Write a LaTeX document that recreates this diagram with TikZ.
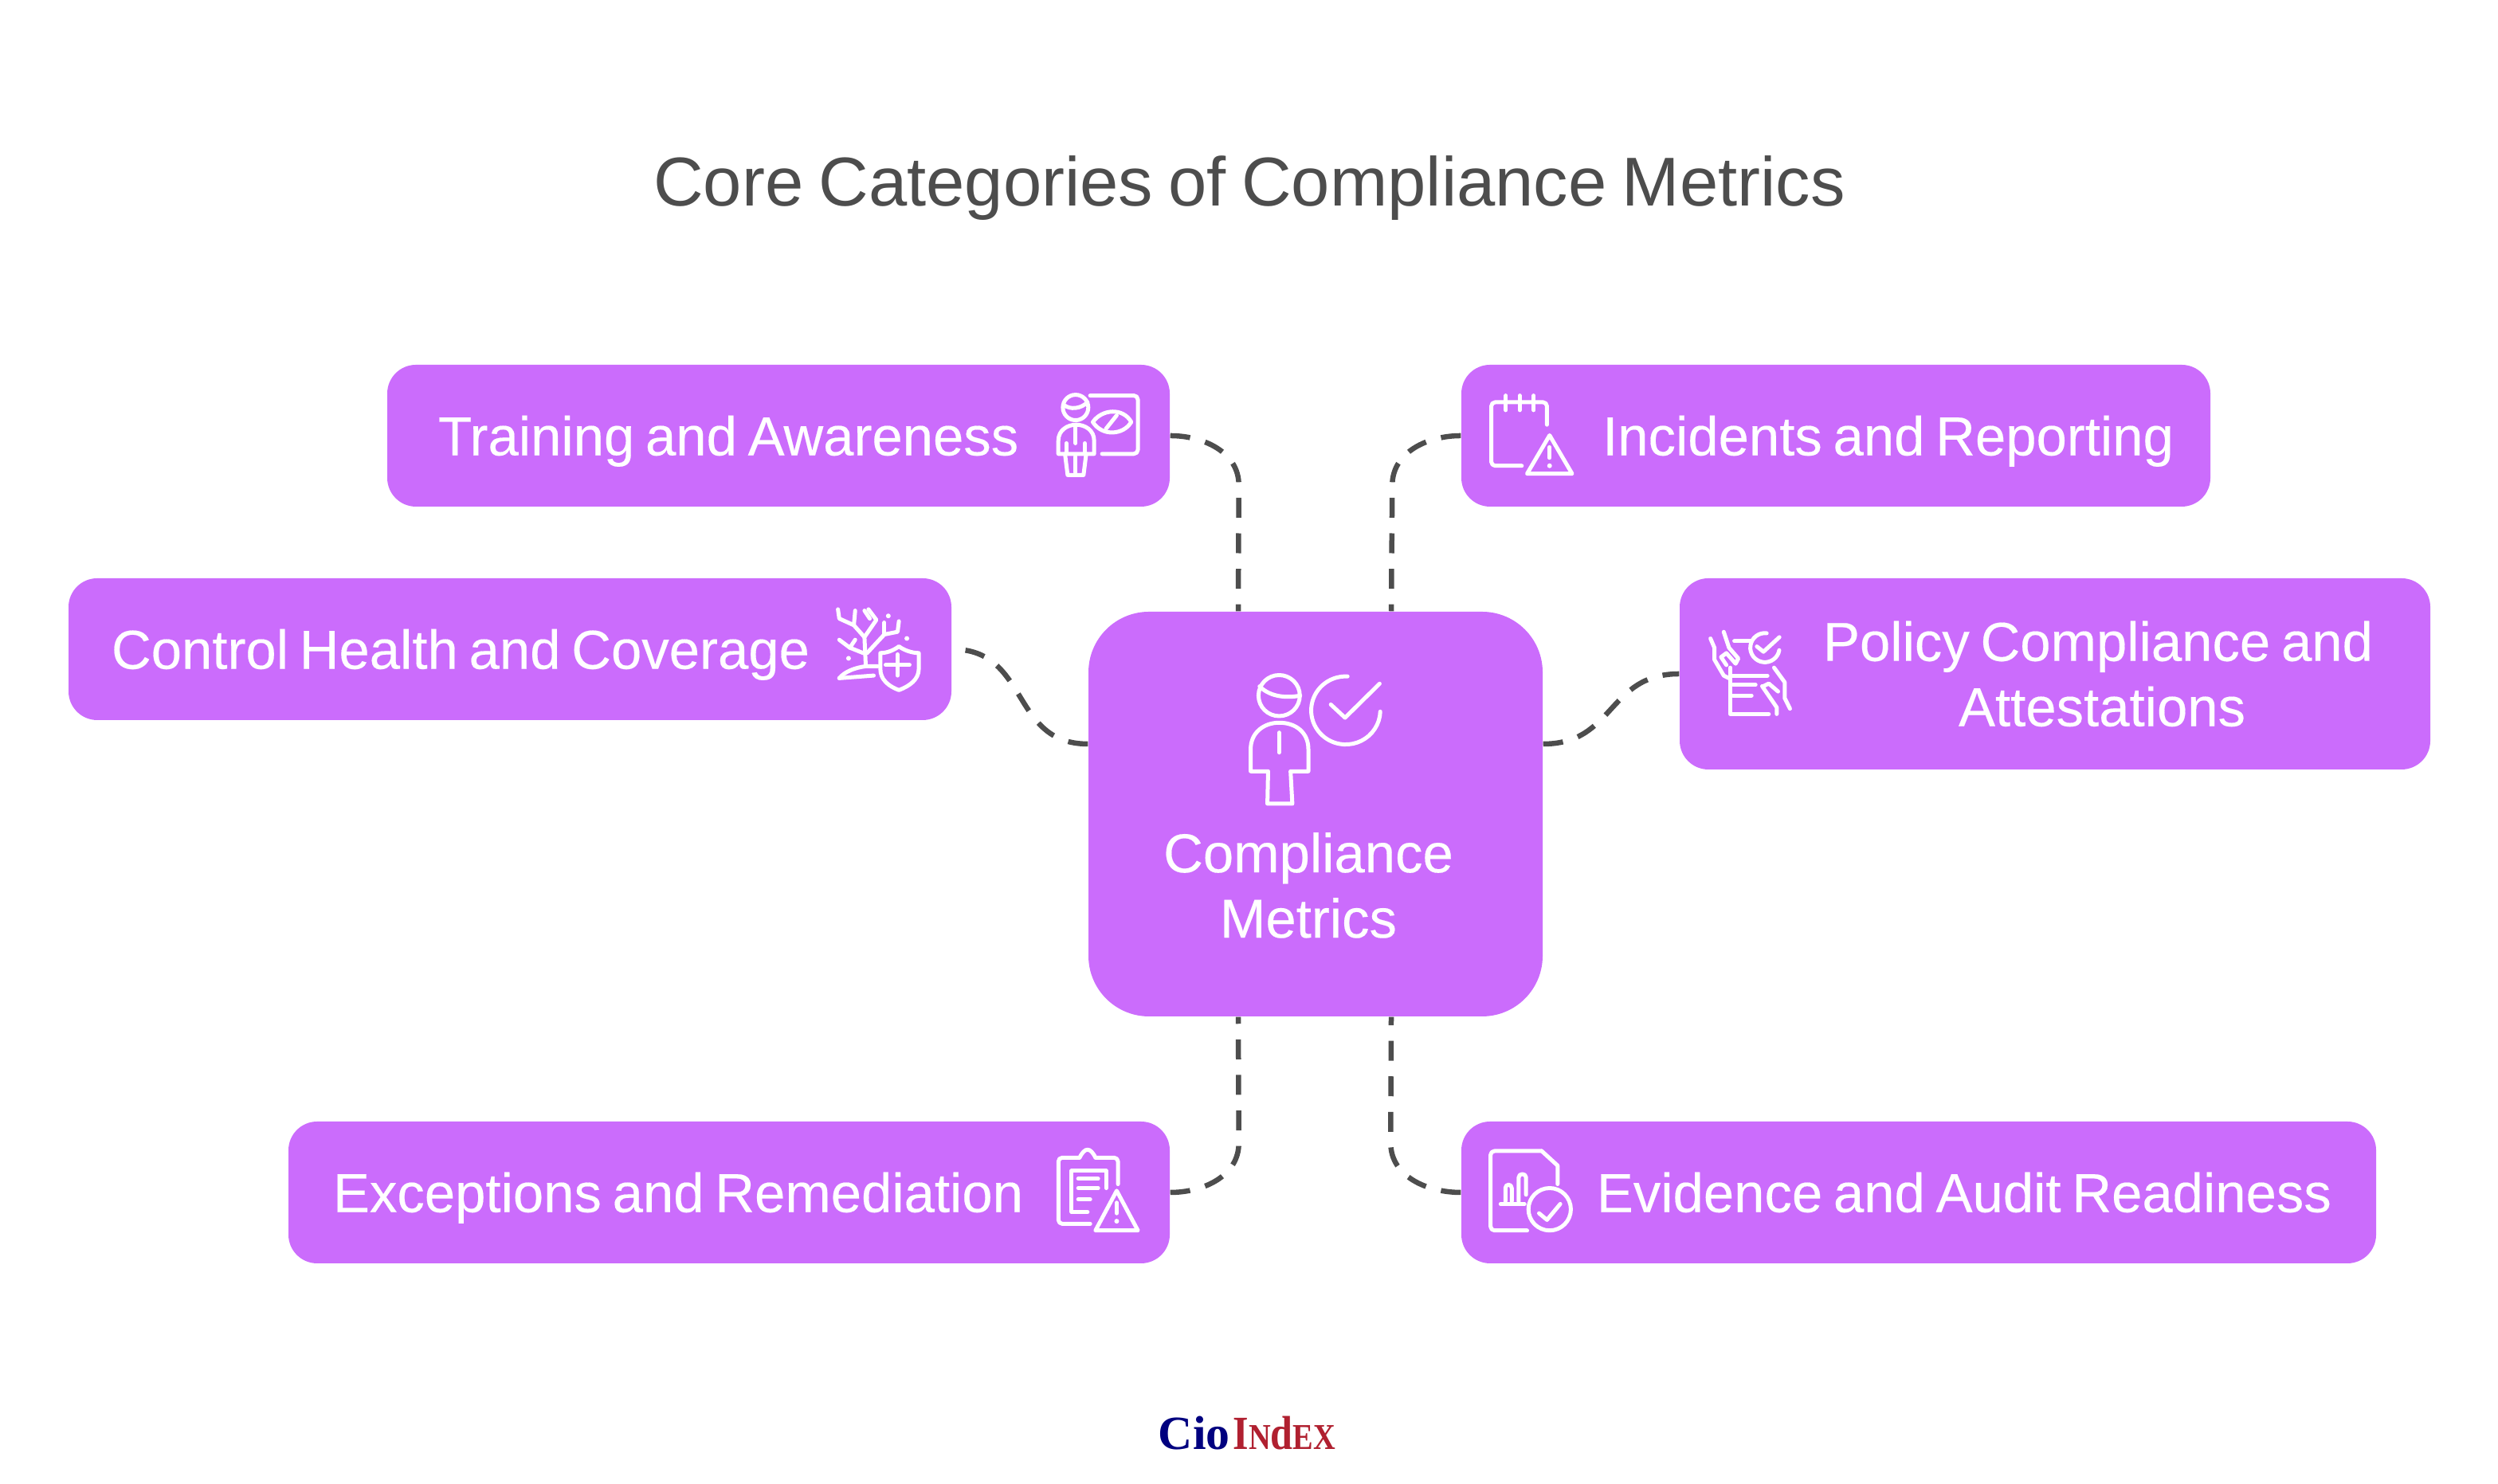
\documentclass[tikz,border=0pt]{standalone}
\usepackage{fontspec}
\setmainfont{Liberation Sans}
\newfontfamily\boxfont[FakeBold=0.25]{Liberation Sans}
\newfontfamily\logofont{Liberation Serif}
\definecolor{boxviolet}{HTML}{CB6CFC}
\definecolor{linkgray}{HTML}{4D4D4D}
\definecolor{cionavy}{HTML}{00007F}
\definecolor{ciored}{HTML}{B02030}
\tikzset{
	catbox/.style={fill=boxviolet,rounded corners=0.36cm,text=white,minimum height=1.78cm,inner ysep=0pt,font=\boxfont\fontsize{19.6}{23.3}\selectfont,execute at begin node={\spaceskip 0.2em\relax}},
	catline/.style={catbox,text height=14pt,text depth=0pt},
	hubbox/.style={fill=boxviolet,rounded corners=0.76cm,text=white,minimum width=5.7cm,minimum height=5.08cm,inner sep=0pt,align=center,font=\boxfont\fontsize{19.6}{23.3}\selectfont},
	linkdash/.style={draw=linkgray,line width=0.065cm,dash pattern=on 0.25cm off 0.196cm},
	iconline/.style={x=0.003333cm,y=-0.003333cm,draw=white,line width=0.05cm,line cap=round,line join=round},
	icondot/.style={fill=white,draw=none}
}
\begin{document}
\begin{tikzpicture}
		\useasboundingbox (0,0) rectangle (31.35,18.63);
		\node[text=linkgray,font=\fontsize{24.7}{30}\selectfont\spaceskip 0.222em\relax] (title) at (15.68,16.27) {Core Categories of Compliance Metrics};
		\node[hubbox] (hub) at (16.51,8.41) {\mbox{}\\[1.47cm]Compliance\kern0.18cm\\Metrics\kern0.18cm};
		\node[catline,align=left,text width=8.54cm,inner xsep=0.64cm] (training) at (9.77,13.16) {Training and Awareness};
		\node[catline,align=right,text width=8.48cm,inner xsep=0.46cm] (incidents) at (23.04,13.16) {Incidents and Reporting};
		\node[catline,align=left,text width=10cm,inner xsep=0.54cm] (control) at (6.40,10.48) {Control Health and Coverage};
		\node[catbox,align=right,text width=7.98cm,inner xsep=0.72cm,minimum height=2.4cm] (policy) at (25.79,10.17) {Policy Compliance and\\Attestations\kern1.6cm};
		\node[catline,align=left,text width=9.94cm,inner xsep=0.56cm] (exceptions) at (9.15,3.66) {Exceptions and Remediation};
		\node[catline,align=right,text width=10.36cm,inner xsep=0.56cm] (evidence) at (24.08,3.66) {Evidence and Audit Readiness};
		\draw[linkdash] (training.east) to[out=0,in=90] ++(0.86,-0.62) -- ([xshift=-0.97cm]hub.north);
		\draw[linkdash] (incidents.west) to[out=180,in=90] ++(-0.86,-0.62) -- ([xshift=0.95cm]hub.north);
		\draw[linkdash] ([yshift=0.88cm]hub.west) to[out=180,in=0,looseness=1.2] (control.east);
		\draw[linkdash] ([yshift=0.88cm]hub.east) to[out=0,in=180,looseness=1.2] (policy.west);
		\draw[linkdash] (exceptions.east) to[out=0,in=-90] ++(0.86,0.62) -- ([xshift=-0.97cm]hub.south);
		\draw[linkdash] (evidence.west) to[out=180,in=-90] ++(-0.88,0.62) -- ([xshift=0.95cm]hub.south);
		\begin{scope}[iconline,shift={(13cm,14.33cm)},x=0.004464cm,y=-0.004149cm]
			\draw (683,1068) circle[x radius=58,y radius=62];
			\draw (628,1040) .. controls (660,1075) and (710,1075) .. (742,1068);
			\draw (603,1297) -- (603,1230) .. controls (603,1180) and (640,1150) .. (683,1150) .. controls (730,1150) and (765,1180) .. (765,1230) -- (765,1297) -- (715,1297) -- (720,1395) -- (650,1395) -- (652,1297) -- cycle;
			\draw (683,1180) -- (683,1240);
			\draw (875,1010) arc[start angle=-87,end angle=-358,x radius=97,y radius=103];
			\draw (828,1095) -- (868,1135) -- (965,1032);
		\end{scope}
		\begin{scope}[iconline,shift={(12.8cm,13.93cm)}]
			\draw (210,125) circle[radius=48];
			\draw (165,115) .. controls (190,135) and (230,130) .. (255,105);
			\draw[rounded corners=0.05cm] (265,80) -- (445,80) -- (445,300) -- (310,300);
			\draw (275,180) .. controls (310,130) and (390,125) .. (420,180) .. controls (390,230) and (310,235) .. (275,180);
			\draw (325,205) -- (365,155);
			\draw (145,300) -- (145,250) .. controls (145,210) and (180,190) .. (212,190) .. controls (245,190) and (280,210) .. (280,250) -- (280,300) -- cycle;
			\draw (210,195) -- (210,260);
			\draw (175,260) -- (175,300);
			\draw (245,260) -- (245,300);
			\draw (170,300) -- (180,380) -- (240,380) -- (250,300);
			\draw (210,310) -- (210,370);
		\end{scope}
		\begin{scope}[iconline,shift={(18.2cm,13.93cm)}]
			\draw[rounded corners=0.05cm] (365,190) -- (365,105) -- (155,105) -- (155,345) -- (270,345);
			\draw (210,80) -- (210,135);
			\draw (262,80) -- (262,135);
			\draw (315,80) -- (315,135);
			\draw (375,230) -- (460,375) -- (290,375) -- cycle;
			\draw (375,275) -- (375,315);
			\fill[icondot] (375,345) circle[radius=9];
		\end{scope}
		\begin{scope}[iconline,shift={(10.3cm,11.23cm)}]
			\draw (70,335) .. controls (90,310) and (130,295) .. (170,290) -- (215,290);
			\draw (70,335) -- (200,325);
			\draw (170,290) -- (165,180) -- (125,135) -- (70,110) -- (65,75);
			\draw (125,135) -- (130,80);
			\draw (165,180) -- (210,115) -- (180,75);
			\draw (185,110) -- (165,80);
			\draw (175,240) -- (240,170) -- (290,160) -- (295,120);
			\draw (240,170) -- (240,125);
			\draw (160,240) -- (110,220) -- (70,190);
			\draw (110,220) -- (130,190);
			\fill[icondot] (255,100) circle[radius=9];
			\fill[icondot] (325,185) circle[radius=9];
			\fill[icondot] (105,260) circle[radius=9];
			\draw (225,240) .. controls (250,240) and (275,230) .. (295,215) .. controls (315,230) and (345,240) .. (370,240) -- (370,300) .. controls (370,340) and (335,365) .. (295,380) .. controls (255,365) and (225,340) .. (225,300) -- cycle;
			\draw (245,285) -- (335,285);
			\draw (290,245) -- (290,325);
		\end{scope}
		\begin{scope}[iconline,shift={(21.3cm,10.93cm)}]
			\draw (50,95) -- (65,130) -- (65,175) -- (100,235) -- (120,245);
			\draw (100,70) -- (120,130) -- (155,170) -- (145,190) -- (110,150) -- (90,165) -- (110,195);
			\draw (125,205) -- (125,380) -- (270,380);
			\draw (130,235) -- (265,235);
			\draw (135,270) -- (220,270);
			\draw (135,310) -- (205,310);
			\draw (140,105) -- (200,105);
			\draw (262,75) arc[start angle=-83,end angle=-350,radius=55];
			\draw (225,125) -- (250,145) -- (310,90);
			\draw (290,205) -- (330,260) -- (330,320) -- (350,360);
			\draw (245,275) -- (300,355) -- (300,380);
			\draw (250,275) -- (270,265) -- (305,295);
		\end{scope}
		\begin{scope}[iconline,shift={(13cm,4.33cm)}]
			\draw[rounded corners=0.05cm] (310,170) -- (310,70) -- (225,70);
			\draw (225,70) .. controls (215,50) and (205,40) .. (195,40) .. controls (185,40) and (175,50) .. (165,70);
			\draw[rounded corners=0.05cm] (165,70) -- (85,70) -- (85,320) -- (205,320);
			\draw (265,185) -- (265,120) -- (135,120) -- (135,275) -- (195,275);
			\draw (160,150) -- (235,150);
			\draw (160,185) -- (235,185);
			\draw (160,228) -- (205,228);
			\draw (305,195) -- (385,345) -- (225,345) -- cycle;
			\draw (305,240) -- (305,280);
			\fill[icondot] (305,310) circle[radius=9];
		\end{scope}
		\begin{scope}[iconline,shift={(18.5cm,4.33cm)}]
			\draw[rounded corners=0.05cm] (200,345) -- (62,345) -- (62,45) -- (255,45);
			\draw (255,45) -- (315,100) -- (315,170);
			\draw (100,245) -- (190,245);
			\draw (118,235) -- (118,185) .. controls (118,168) and (142,168) .. (142,185) -- (142,235);
			\draw (168,235) -- (168,145) .. controls (168,128) and (196,128) .. (196,145) -- (196,210);
			\draw (285,265) circle[radius=80];
			\draw (245,280) -- (275,305) -- (325,245);
		\end{scope}
		\node[anchor=base,inner sep=0pt,font=\logofont\bfseries\fontsize{17}{20}\selectfont] (logo) at (15.65,0.43) {\textcolor{cionavy}{Cio}\kern0.04cm\textcolor{ciored}{\scalebox{0.84}[1]{I{\fontsize{13}{16}\selectfont N}d{\fontsize{13}{16}\selectfont EX}}}};
		\end{tikzpicture}
\end{document}
